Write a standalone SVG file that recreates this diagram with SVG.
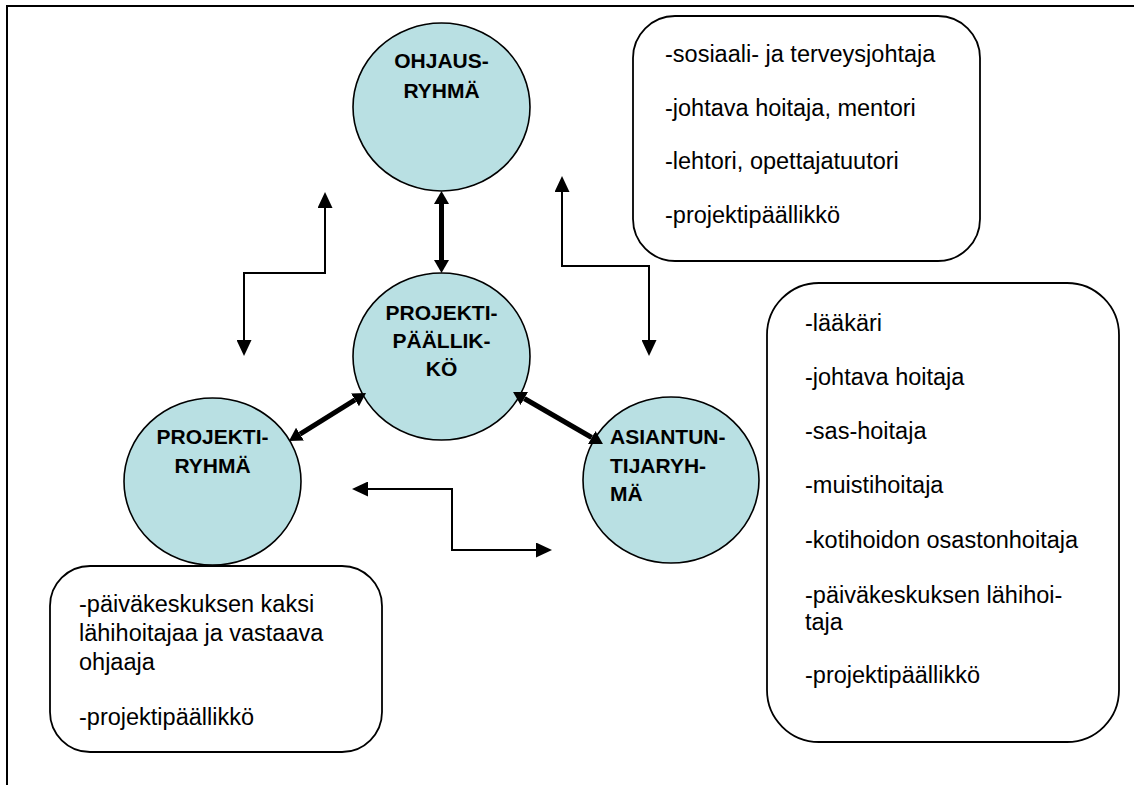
<svg xmlns="http://www.w3.org/2000/svg" width="1134" height="785" viewBox="0 0 1134 785">
  <style>
    .frame { fill: none; stroke: #000; stroke-width: 2; }
    .group { fill: #B9E0E3; stroke: #000; stroke-width: 1.6; }
    .box { fill: #fff; stroke: #000; stroke-width: 1.8; }
    .title { font-family: "Liberation Sans", Arial, sans-serif; font-weight: bold; font-size: 21px; fill: #000; }
    .list { font-family: "Liberation Sans", Arial, sans-serif; font-size: 23.5px; fill: #000; }
    .thin { fill: none; stroke: #000; stroke-width: 2; }
    .thick { fill: none; stroke: #000; stroke-width: 5; }
  </style>
  <defs>
    <marker id="headThin" viewBox="0 0 16 15" refX="0" refY="7.5" markerWidth="16" markerHeight="15" markerUnits="userSpaceOnUse" orient="auto-start-reverse">
      <polygon points="0,0 16,7.5 0,15" fill="#000"/>
    </marker>
    <marker id="headThick" viewBox="0 0 13 15" refX="0" refY="7.5" markerWidth="13" markerHeight="15" markerUnits="userSpaceOnUse" orient="auto-start-reverse">
      <polygon points="0,0 13,7.5 0,15" fill="#000"/>
    </marker>
  </defs>

  <rect width="1134" height="785" fill="#fff"/>

  <!-- page border (top and left edges) -->
  <path class="frame" d="M7 785 V6 H1134"/>

  <!-- member lists -->
  <g id="list-ohjausryhma">
    <rect class="box" x="633" y="16" width="347" height="245" rx="42" ry="42"/>
    <text class="list" x="665" y="62">-sosiaali- ja terveysjohtaja</text>
    <text class="list" x="665" y="115.5">-johtava hoitaja, mentori</text>
    <text class="list" x="665" y="169">-lehtori, opettajatuutori</text>
    <text class="list" x="665" y="223">-projektipäällikkö</text>
  </g>

  <g id="list-asiantuntijaryhma">
    <rect class="box" x="767" y="283" width="352" height="459" rx="52" ry="52"/>
    <text class="list" x="805" y="331">-lääkäri</text>
    <text class="list" x="805" y="385">-johtava hoitaja</text>
    <text class="list" x="805" y="439">-sas-hoitaja</text>
    <text class="list" x="805" y="493">-muistihoitaja</text>
    <text class="list" x="805" y="548">-kotihoidon osastonhoitaja</text>
    <text class="list" x="805" y="603">-päiväkeskuksen lähihoi-</text>
    <text class="list" x="805" y="630">taja</text>
    <text class="list" x="805" y="683">-projektipäällikkö</text>
  </g>

  <g id="list-projektiryhma">
    <rect class="box" x="50" y="566" width="332" height="186" rx="40" ry="40"/>
    <text class="list" x="79" y="612">-päiväkeskuksen kaksi</text>
    <text class="list" x="79" y="641">lähihoitajaa ja vastaava</text>
    <text class="list" x="79" y="670">ohjaaja</text>
    <text class="list" x="79" y="725">-projektipäällikkö</text>
  </g>

  <!-- groups -->
  <g id="ohjausryhma">
    <ellipse class="group" cx="441.5" cy="107" rx="88.5" ry="84"/>
    <text class="title" x="441.5" y="68" text-anchor="middle">OHJAUS-</text>
    <text class="title" x="441.5" y="98" text-anchor="middle">RYHMÄ</text>
  </g>

  <g id="projektipaallikko">
    <ellipse class="group" cx="441.5" cy="356.5" rx="88.5" ry="83.5"/>
    <text class="title" x="441.5" y="320" text-anchor="middle">PROJEKTI-</text>
    <text class="title" x="441.5" y="348" text-anchor="middle">PÄÄLLIK-</text>
    <text class="title" x="441.5" y="376" text-anchor="middle">KÖ</text>
  </g>

  <g id="projektiryhma">
    <ellipse class="group" cx="212.5" cy="481.5" rx="88.5" ry="83.5"/>
    <text class="title" x="212.5" y="444" text-anchor="middle">PROJEKTI-</text>
    <text class="title" x="212.5" y="473" text-anchor="middle">RYHMÄ</text>
  </g>

  <g id="asiantuntijaryhma">
    <ellipse class="group" cx="671" cy="480" rx="88" ry="83"/>
    <text class="title" x="610" y="444">ASIANTUN-</text>
    <text class="title" x="610" y="473">TIJARYH-</text>
    <text class="title" x="610" y="501">MÄ</text>
  </g>

  <!-- connectors -->
  <g id="connectors">
    <path class="thick" d="M441.5 204 V260" marker-start="url(#headThick)" marker-end="url(#headThick)"/>
    <path class="thick" d="M355 399.9 L300 434.1" marker-start="url(#headThick)" marker-end="url(#headThick)"/>
    <path class="thick" d="M524.3 398.5 L591.7 437.5" marker-start="url(#headThick)" marker-end="url(#headThick)"/>

    <path class="thin" d="M325 208 V273 H244 V340" marker-start="url(#headThin)" marker-end="url(#headThin)"/>
    <path class="thin" d="M562 192 V266 H649 V340" marker-start="url(#headThin)" marker-end="url(#headThin)"/>
    <path class="thin" d="M368 489 H452 V550 H536" marker-start="url(#headThin)" marker-end="url(#headThin)"/>
  </g>
</svg>
